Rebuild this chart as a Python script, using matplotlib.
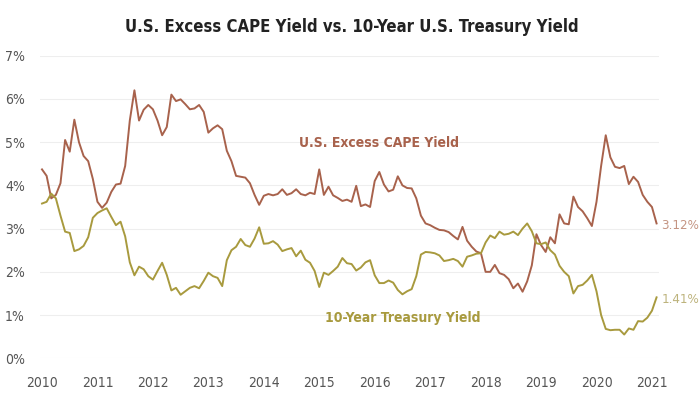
import numpy as np
import matplotlib
matplotlib.use('Agg')
import matplotlib.pyplot as plt
from matplotlib import font_manager

# pick a narrow face if one is installed
fonts = font_manager.fontManager.ttflist
names = {f.name for f in fonts}
if 'Liberation Sans Narrow' in names:
    plt.rcParams['font.family'] = ['Liberation Sans Narrow', 'DejaVu Sans']
    font_tag = 'narrow'
elif any(f.name == 'DejaVu Sans' and 'condensed' in str(f.stretch) for f in fonts):
    plt.rcParams['font.family'] = ['DejaVu Sans']
    plt.rcParams['font.stretch'] = 'condensed'
    font_tag = 'condensed'
else:
    plt.rcParams['font.family'] = ['Roboto', 'DejaVu Sans']
    font_tag = 'roboto'

# monthly values, Jan 2010 .. Feb 2021 (in %)
cape = [
    4.37, 4.22, 3.70, 3.78, 4.05, 5.05, 4.78, 5.52, 5.00, 4.68, 4.56, 4.15,  # 2010
    3.62, 3.48, 3.60, 3.85, 4.02, 4.04, 4.45, 5.50, 6.20, 5.50, 5.75, 5.86,  # 2011
    5.76, 5.50, 5.16, 5.35, 6.10, 5.95, 5.99, 5.88, 5.76, 5.78, 5.86, 5.70,  # 2012
    5.22, 5.32, 5.39, 5.30, 4.80, 4.56, 4.22, 4.20, 4.18, 4.05, 3.78, 3.55,  # 2013
    3.76, 3.80, 3.77, 3.80, 3.91, 3.78, 3.82, 3.91, 3.80, 3.77, 3.83, 3.80,  # 2014
    4.37, 3.78, 3.97, 3.77, 3.71, 3.64, 3.67, 3.62, 3.99, 3.52, 3.56, 3.50,  # 2015
    4.10, 4.31, 4.02, 3.86, 3.90, 4.21, 4.00, 3.94, 3.93, 3.70, 3.30, 3.12,  # 2016
    3.08, 3.02, 2.97, 2.96, 2.92, 2.83, 2.75, 3.04, 2.72, 2.58, 2.47, 2.43,  # 2017
    2.00, 2.00, 2.16, 1.97, 1.93, 1.83, 1.62, 1.73, 1.54, 1.78, 2.15, 2.87,  # 2018
    2.62, 2.46, 2.80, 2.66, 3.33, 3.12, 3.10, 3.74, 3.50, 3.40, 3.24, 3.06,  # 2019
    3.62, 4.45, 5.16, 4.65, 4.43, 4.40, 4.45, 4.03, 4.20, 4.08, 3.78, 3.62,  # 2020
    3.50, 3.12,                                                              # 2021
]
treasury = [
    3.58, 3.62, 3.81, 3.70, 3.30, 2.93, 2.90, 2.48, 2.52, 2.60, 2.80, 3.25,  # 2010
    3.36, 3.42, 3.47, 3.27, 3.08, 3.16, 2.82, 2.22, 1.92, 2.12, 2.06, 1.90,  # 2011
    1.82, 2.02, 2.21, 1.93, 1.57, 1.63, 1.47, 1.55, 1.63, 1.67, 1.62, 1.79,  # 2012
    1.98, 1.90, 1.86, 1.67, 2.27, 2.50, 2.58, 2.76, 2.62, 2.58, 2.77, 3.03,  # 2013
    2.65, 2.66, 2.71, 2.63, 2.48, 2.52, 2.55, 2.36, 2.49, 2.28, 2.21, 2.02,  # 2014
    1.65, 1.98, 1.93, 2.02, 2.12, 2.32, 2.20, 2.18, 2.03, 2.10, 2.22, 2.27,  # 2015
    1.92, 1.74, 1.74, 1.80, 1.75, 1.58, 1.48, 1.55, 1.60, 1.90, 2.40, 2.46,  # 2016
    2.45, 2.43, 2.38, 2.25, 2.27, 2.30, 2.25, 2.12, 2.35, 2.38, 2.42, 2.43,  # 2017
    2.68, 2.84, 2.78, 2.93, 2.86, 2.88, 2.93, 2.85, 3.00, 3.12, 2.94, 2.66,  # 2018
    2.64, 2.68, 2.50, 2.40, 2.14, 2.00, 1.90, 1.50, 1.67, 1.70, 1.80, 1.93,  # 2019
    1.55, 1.00, 0.68, 0.65, 0.66, 0.66, 0.55, 0.69, 0.66, 0.86, 0.85, 0.94,  # 2020
    1.10, 1.41,                                                              # 2021
]
years = list(range(2010, 2022))
yticks = [0, 1, 2, 3, 4, 5, 6, 7]

cape_color = '#a8624c'
tsy_color = '#a89a3e'

# sizes depend on how narrow the face is
if font_tag == 'roboto':
    tick_fs, lab_fs, end_fs, title_fs = 8.5, 9, 8, 11
else:
    tick_fs, lab_fs, end_fs, title_fs = 10, 10, 9.5, 12

t = 2010 + np.arange(len(cape)) / 12.0

fig = plt.figure(figsize=(6.99, 3.99), dpi=100)
ax = fig.add_axes([40 / 699, 1 - 358.3 / 399, 619 / 699, 302.6 / 399])

ax.plot(t, cape, color=cape_color, lw=1.4, solid_joinstyle='round')
ax.plot(t, treasury, color=tsy_color, lw=1.4, solid_joinstyle='round')

ax.set_xlim(2010 - 2 / 55.45, 2010 + 617 / 55.45)
ax.set_ylim(0, 7)
ax.set_xticks(years)
ax.set_xticklabels([str(y) for y in years])
ax.set_yticks(yticks)
ax.set_yticklabels([f'{v}%' for v in yticks])
ax.grid(axis='y', color='#eeeeee', lw=0.8)
ax.set_axisbelow(True)
for s in ax.spines.values():
    s.set_visible(False)
ax.tick_params(axis='both', length=0, labelsize=tick_fs, labelcolor='#555555')
ax.tick_params(axis='y', pad=11)
ax.tick_params(axis='x', pad=13)

# series labels
ax.text(2016.08, 4.98, 'U.S. Excess CAPE Yield', color=cape_color,
        fontsize=lab_fs, fontweight='bold', ha='center', va='center')
ax.text(2016.50, 0.93, '10-Year Treasury Yield', color=tsy_color,
        fontsize=lab_fs, fontweight='bold', ha='center', va='center')

# end values
ax.annotate(f'{cape[-1]:.2f}%', xy=(t[-1], cape[-1]), xytext=(5, -2),
            textcoords='offset pixels', color='#c49482', fontsize=end_fs,
            va='center', ha='left', annotation_clip=False)
ax.annotate(f'{treasury[-1]:.2f}%', xy=(t[-1], treasury[-1]), xytext=(5, -2),
            textcoords='offset pixels', color='#bdb37c', fontsize=end_fs,
            va='center', ha='left', annotation_clip=False)

fig.text(352 / 699, 1 - 27 / 399, 'U.S. Excess CAPE Yield vs. 10-Year U.S. Treasury Yield',
         ha='center', va='center', fontsize=title_fs, fontweight='bold', color='#222222')

fig.savefig('out.png', dpi=100)
